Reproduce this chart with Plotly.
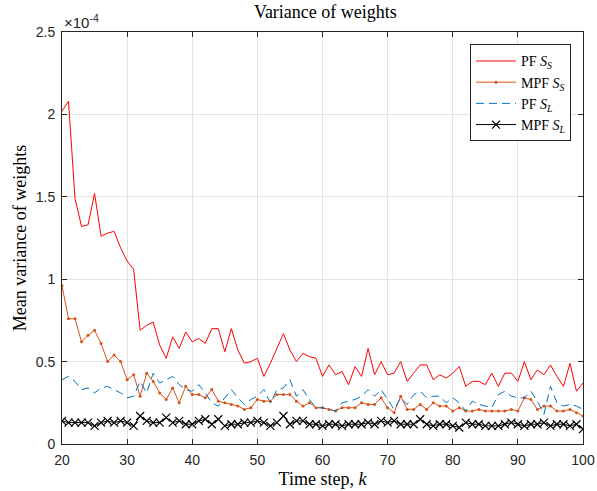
import plotly.graph_objects as go

k = list(range(20, 101))

pf_ss = [2.02, 2.08, 1.49, 1.32, 1.33, 1.52, 1.26, 1.28, 1.29, 1.19,
         1.11, 1.06, 0.69, 0.72, 0.74, 0.60, 0.52, 0.65, 0.58, 0.68,
         0.62, 0.64, 0.61, 0.70, 0.70, 0.56, 0.70, 0.57, 0.49, 0.50,
         0.52, 0.41, 0.49, 0.58, 0.67, 0.57, 0.50, 0.55, 0.53, 0.52,
         0.41, 0.48, 0.42, 0.44, 0.36, 0.47, 0.41, 0.58, 0.42, 0.50,
         0.42, 0.43, 0.50, 0.38, 0.43, 0.48, 0.48, 0.39, 0.42, 0.40,
         0.43, 0.47, 0.35, 0.38, 0.38, 0.36, 0.43, 0.35, 0.43, 0.43,
         0.38, 0.50, 0.39, 0.45, 0.42, 0.48, 0.41, 0.35, 0.49, 0.32,
         0.37]

mpf_ss = [0.96, 0.76, 0.76, 0.62, 0.66, 0.69, 0.61, 0.50, 0.54, 0.50,
          0.39, 0.42, 0.29, 0.43, 0.38, 0.31, 0.27, 0.34, 0.25, 0.35,
          0.30, 0.30, 0.28, 0.33, 0.26, 0.25, 0.24, 0.23, 0.21, 0.22,
          0.27, 0.26, 0.26, 0.30, 0.30, 0.30, 0.26, 0.23, 0.25, 0.22,
          0.22, 0.21, 0.20, 0.22, 0.22, 0.22, 0.25, 0.24, 0.24, 0.28,
          0.22, 0.19, 0.29, 0.21, 0.21, 0.24, 0.21, 0.25, 0.23, 0.23,
          0.20, 0.22, 0.20, 0.20, 0.21, 0.20, 0.20, 0.20, 0.20, 0.21,
          0.20, 0.28, 0.27, 0.21, 0.23, 0.23, 0.20, 0.20, 0.21, 0.19,
          0.17]

pf_sl = [0.39, 0.41, 0.38, 0.33, 0.34, 0.31, 0.34, 0.35, 0.33, 0.31,
         0.28, 0.29, 0.38, 0.31, 0.43, 0.37, 0.39, 0.41, 0.36, 0.33,
         0.32, 0.36, 0.31, 0.25, 0.23, 0.28, 0.33, 0.28, 0.24, 0.27,
         0.29, 0.33, 0.25, 0.33, 0.34, 0.39, 0.29, 0.33, 0.27, 0.22,
         0.22, 0.21, 0.20, 0.25, 0.26, 0.27, 0.29, 0.33, 0.29, 0.33,
         0.27, 0.21, 0.28, 0.24, 0.30, 0.32, 0.28, 0.29, 0.29, 0.25,
         0.28, 0.25, 0.20, 0.26, 0.24, 0.23, 0.22, 0.30, 0.32, 0.29,
         0.28, 0.28, 0.32, 0.26, 0.18, 0.35, 0.25, 0.23, 0.24, 0.23,
         0.21]

mpf_sl = [0.14, 0.13, 0.13, 0.13, 0.13, 0.11, 0.13, 0.14, 0.13, 0.14,
          0.13, 0.11, 0.17, 0.14, 0.13, 0.13, 0.16, 0.13, 0.14, 0.12,
          0.12, 0.14, 0.15, 0.12, 0.15, 0.11, 0.12, 0.12, 0.13, 0.13,
          0.14, 0.13, 0.11, 0.13, 0.17, 0.12, 0.14, 0.14, 0.12, 0.12,
          0.11, 0.12, 0.12, 0.11, 0.12, 0.12, 0.12, 0.13, 0.12, 0.14,
          0.13, 0.14, 0.12, 0.12, 0.12, 0.15, 0.12, 0.11, 0.12, 0.12,
          0.11, 0.10, 0.13, 0.12, 0.12, 0.11, 0.11, 0.11, 0.12, 0.13,
          0.12, 0.11, 0.12, 0.12, 0.13, 0.11, 0.12, 0.12, 0.11, 0.12,
          0.09]

x_ticks = [20, 30, 40, 50, 60, 70, 80, 90, 100]
y_ticks = [0, 0.5, 1, 1.5, 2, 2.5]
y_tick_labels = ["0", "0.5", "1", "1.5", "2", "2.5"]

serif = "Liberation Serif"
sans = "Liberation Sans"
axis_col = "#262626"

fig = go.Figure()
fig.add_trace(go.Scatter(x=k, y=pf_ss, mode="lines", name="PF <i>S</i><sub><i>S</i></sub>",
                         line=dict(color="#ff0000", width=1)))
fig.add_trace(go.Scatter(x=k, y=mpf_ss, mode="lines+markers", name="MPF <i>S</i><sub><i>S</i></sub>",
                         line=dict(color="#D95319", width=1),
                         marker=dict(symbol="circle", size=3, color="#D95319")))
fig.add_trace(go.Scatter(x=k, y=pf_sl, mode="lines", name="PF <i>S</i><sub><i>L</i></sub>",
                         line=dict(color="#0072BD", width=1, dash="8px,5px")))
fig.add_trace(go.Scatter(x=k, y=mpf_sl, mode="lines+markers", name="MPF <i>S</i><sub><i>L</i></sub>",
                         line=dict(color="#000000", width=1),
                         marker=dict(symbol="x-thin", size=8, color="#000000",
                                     line=dict(width=1.2, color="#000000"))))

fig.update_layout(
    width=597, height=491,
    margin=dict(l=62, r=14, t=32, b=47),
    paper_bgcolor="white", plot_bgcolor="white",
    title=dict(text="Variance of weights", x=0.545, xanchor="center", y=0.988, yanchor="top",
               font=dict(family=serif, size=18, color="#000")),
    xaxis=dict(range=[20, 100], tickvals=x_ticks, ticks="inside", ticklen=5,
               tickcolor=axis_col, showline=True, linecolor=axis_col, linewidth=1,
               mirror="ticks", showgrid=True, gridcolor="#e3e3e3", zeroline=False,
               ticklabelstandoff=3, automargin=False,
               tickfont=dict(family=sans, size=14, color=axis_col),
               title=dict(text="Time step, <i>k</i>", font=dict(family=serif, size=18, color="#000"),
                          standoff=5)),
    yaxis=dict(range=[0, 2.5], tickvals=y_ticks, ticktext=y_tick_labels, ticks="inside", ticklen=5,
               tickcolor=axis_col, showline=True, linecolor=axis_col, linewidth=1,
               mirror="ticks", showgrid=True, gridcolor="#e3e3e3", zeroline=False,
               ticklabelstandoff=3, automargin=False,
               tickfont=dict(family=sans, size=14, color=axis_col),
               title=dict(text="Mean variance of weights", font=dict(family=serif, size=18, color="#000"),
                          standoff=4)),
    legend=dict(x=0.977, y=0.97, xanchor="right", yanchor="top",
                bgcolor="white", bordercolor=axis_col, borderwidth=1,
                font=dict(family=serif, size=14, color="#000"), tracegroupgap=0,
                itemwidth=40),
    showlegend=True,
)

fig.add_annotation(text="×10<sup>-4</sup>", xref="paper", yref="paper", x=0, y=1,
                   xanchor="left", yanchor="bottom", showarrow=False, yshift=-1,
                   font=dict(family=sans, size=15, color=axis_col))

fig.write_html("out.html")
